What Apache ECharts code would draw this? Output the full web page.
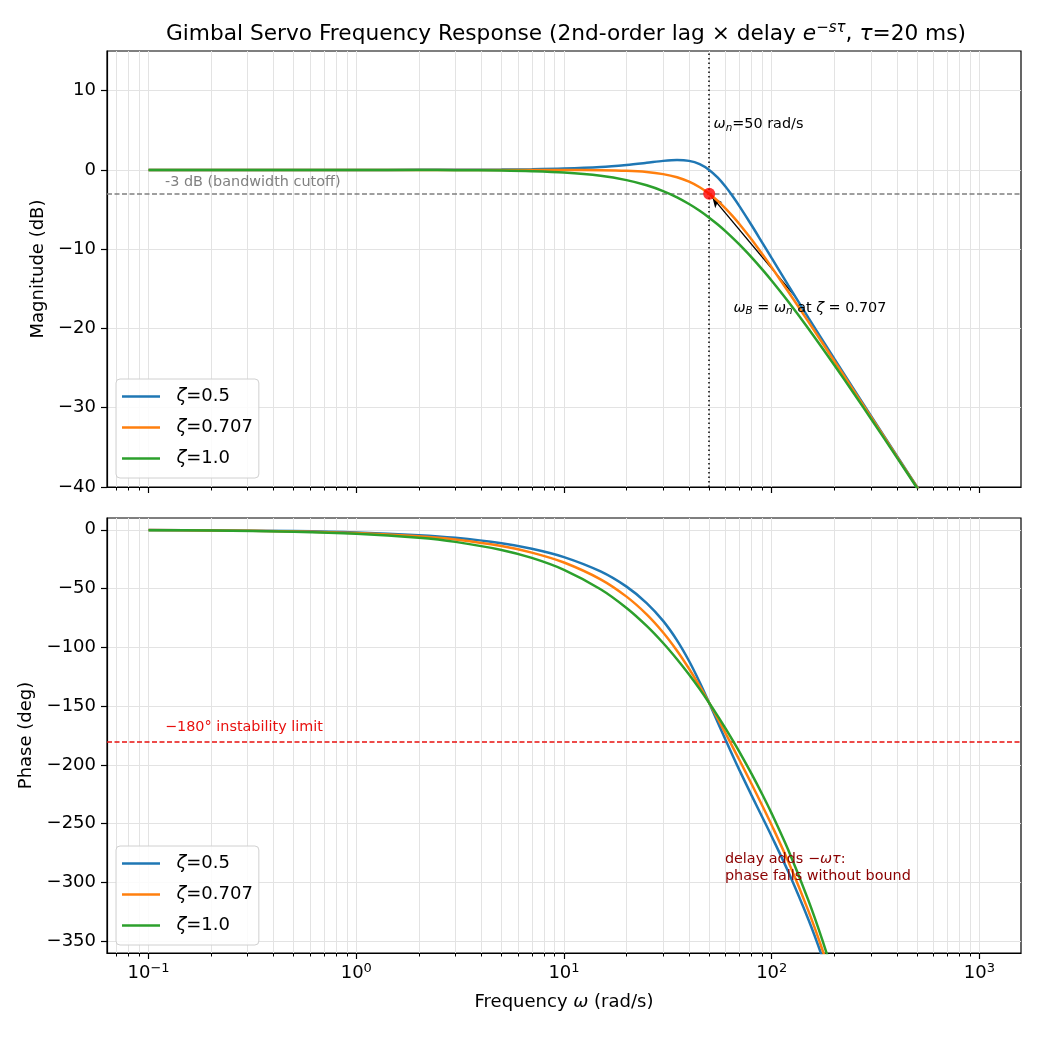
<!DOCTYPE html>
<html>
<head>
<meta charset="utf-8">
<script src="https://cdn.jsdelivr.net/npm/echarts@6/dist/echarts.min.js"></script>
<style>html,body{margin:0;padding:0;background:#fff}#chart{width:1040px;height:1040px}</style>
</head>
<body>
<div id="chart"></div>
<script>
// frequency grid (rad/s) and curves
const W_MAG = [0.1, 0.2, 0.5, 1, 2, 3, 5, 7, 10, 15, 20, 25, 30, 35, 40, 45, 50, 55, 60, 65, 70, 80, 90, 100, 120, 150, 200, 250, 300, 400, 500, 700];
const MAG_05 = [0, 0, 0, 0, 0.01, 0.02, 0.04, 0.08, 0.17, 0.37, 0.63, 0.90, 1.14, 1.25, 1.14, 0.73, 0, -0.98, -2.13, -3.36, -4.60, -6.98, -9.17, -11.14, -14.54, -18.63, -23.82, -27.79, -31.01, -36.06, -39.96, -45.82];
const MAG_0707 = [0, 0, 0, 0, 0, 0, 0, 0, -0.01, -0.04, -0.11, -0.26, -0.53, -0.93, -1.49, -2.19, -3.01, -3.92, -4.88, -5.86, -6.85, -8.78, -10.61, -12.30, -15.34, -19.14, -24.10, -27.97, -31.13, -36.13, -40.00, -45.84];
const MAG_10 = [0, 0, 0, 0, -0.01, -0.03, -0.09, -0.17, -0.34, -0.75, -1.29, -1.94, -2.67, -3.46, -4.30, -5.15, -6.02, -6.89, -7.75, -8.60, -9.43, -11.03, -12.55, -13.98, -16.60, -20.00, -24.61, -28.30, -31.36, -36.26, -40.09, -45.88];

const W_PH = [0.1, 0.2, 0.5, 1, 2, 3, 5, 7, 10, 15, 20, 25, 30, 35, 40, 45, 50, 55, 60, 65, 70, 80, 90, 100, 120, 150, 175, 200];
const PH_05 = [-0.23, -0.46, -1.15, -2.29, -4.59, -6.88, -11.50, -16.15, -23.23, -35.44, -48.38, -62.34, -77.53, -94.04, -111.61, -129.65, -147.30, -163.84, -178.90, -192.44, -204.65, -225.94, -244.35, -260.90, -290.75, -331.33, -363.26, -394.25];
const PH_0707 = [-0.28, -0.55, -1.38, -2.77, -5.54, -8.31, -13.86, -19.44, -27.88, -42.18, -56.88, -71.96, -87.35, -102.85, -118.19, -133.08, -147.30, -160.72, -173.30, -185.06, -196.08, -216.26, -234.48, -251.28, -282.02, -323.95, -356.79, -388.52];
const PH_10 = [-0.34, -0.69, -1.72, -3.44, -6.87, -10.31, -17.15, -23.96, -34.08, -50.59, -66.52, -81.78, -96.31, -110.12, -123.16, -135.54, -147.30, -158.48, -169.15, -179.35, -189.13, -207.66, -225.02, -241.46, -272.27, -315.02, -348.65, -381.11];

const NAMES = ['ζ=0.5', 'ζ=0.707', 'ζ=1.0'];
const COLORS = ['#1f77b4', '#ff7f0e', '#2ca02c'];

// ticks
const X_MAJOR = [0.1, 1, 10, 100, 1000];
const X_MINOR = [0.07, 0.08, 0.09, 0.2, 0.3, 0.4, 0.5, 0.6, 0.7, 0.8, 0.9, 2, 3, 4, 5, 6, 7, 8, 9,
  20, 30, 40, 50, 60, 70, 80, 90, 200, 300, 400, 500, 600, 700, 800, 900];
const MAG_TICKS = [-40, -30, -20, -10, 0, 10];
const PH_TICKS = [-350, -300, -250, -200, -150, -100, -50, 0];

// annotations
const WN = 50;
const CUTOFF_DB = -3;
const BW_POINT = [50, -3];
const ARROW_FROM = [130, -16];
const PHASE_LIMIT = -180;

const FONT = 'DejaVu Sans';
const chart = echarts.init(document.getElementById('chart'));

const pairs = (xs, ys) => xs.map((x, i) => [x, ys[i]]);
const minus = v => (v < 0 ? '\u2212' + Math.abs(v) : String(v));
const logLabel = v => {
  const e = Math.round(Math.log10(v));
  return '10{sup|' + minus(e) + '}';
};
const GRID_C = '#e3e3e3';
const XMIN = 0.0631, XMAX = 1585;

function xAxis(gridIndex, labels) {
  return {
    type: 'log', logBase: 10, gridIndex, min: XMIN, max: XMAX,
    axisLine: { show: true, onZero: false, lineStyle: { color: '#000', width: 1.2 } },
    axisTick: { show: true, length: 6, customValues: X_MAJOR, lineStyle: { color: '#000', width: 1.2 } },
    splitLine: { show: true, lineStyle: { color: GRID_C, width: 1 } },
    axisLabel: labels ? {
      show: true, fontFamily: FONT, fontSize: 18, color: '#000', margin: 9,
      customValues: X_MAJOR, formatter: logLabel,
      rich: { sup: { fontSize: 13, verticalAlign: 'top', fontFamily: FONT, padding: [0, 0, 10, 0] } }
    } : { show: false },
    name: labels ? 'Frequency {i|ω} (rad/s)' : '',
    nameLocation: 'middle', nameGap: 40,
    nameTextStyle: { fontFamily: FONT, fontSize: 18, color: '#000', rich: { i: { fontStyle: 'italic', fontSize: 18, fontFamily: FONT } } }
  };
}
// hidden companion axis carrying the minor ticks
function minorAxis(gridIndex) {
  return {
    type: 'log', logBase: 10, gridIndex, min: XMIN, max: XMAX, position: 'bottom',
    axisLine: { show: false, onZero: false },
    axisTick: { show: true, length: 3.5, customValues: X_MINOR, lineStyle: { color: '#000', width: 1 } },
    axisLabel: { show: false },
    splitLine: { show: false }
  };
}

function yAxis(gridIndex, name, min, max, ticks, nameGap) {
  return {
    type: 'value', gridIndex, min, max,
    axisLine: { show: true, lineStyle: { color: '#000', width: 1.2 } },
    axisTick: { show: true, length: 6, customValues: ticks, lineStyle: { color: '#000', width: 1.2 } },
    splitLine: { show: true, lineStyle: { color: GRID_C, width: 1 } },
    axisLabel: { fontFamily: FONT, fontSize: 18, color: '#000', margin: 11, formatter: minus, customValues: ticks },
    name, nameLocation: 'middle', nameGap,
    nameTextStyle: { fontFamily: FONT, fontSize: 18, color: '#000' }
  };
}

const lineSeries = (name, xs, ys, color, idx) => ({
  name, type: 'line', xAxisIndex: idx, yAxisIndex: idx,
  data: pairs(xs, ys), showSymbol: false, smooth: 0.3, z: 3,
  lineStyle: { color, width: 2.5 }, itemStyle: { color }
});

const labelPoint = (coord, text, color, size) => ({
  coord, symbolSize: 0,
  label: {
    show: true, position: 'right', distance: 0, formatter: text,
    fontFamily: FONT, fontSize: size, color, lineHeight: 17,
    rich: {
      i: { fontStyle: 'italic', fontFamily: FONT, fontSize: size, color },
      sub: { fontSize: size - 4, verticalAlign: 'bottom', fontFamily: FONT, color, fontStyle: 'italic' }
    }
  }
});

const minorGrid = X_MINOR.map(v => ({ xAxis: v }));

const legendBase = {
  orient: 'vertical', data: NAMES, itemWidth: 38, itemHeight: 2.5, itemGap: 10,
  icon: 'rect', padding: [7, 6, 9, 6],
  backgroundColor: 'rgba(255,255,255,0.85)', borderColor: '#d0d0d0', borderWidth: 1, borderRadius: 4,
  textStyle: { fontFamily: FONT, fontSize: 18, color: '#000', lineHeight: 21, rich: { i: { fontStyle: 'italic', fontFamily: FONT, fontSize: 18 } } },
  formatter: n => '  {i|ζ}' + n.slice(1)
};

const option = {
  backgroundColor: '#fff',
  animation: false,
  title: {
    text: 'Gimbal Servo Frequency Response (2nd-order lag × delay {i|e}{sup|−sτ}, {i|τ}=20 ms)',
    left: 561, top: 16, textAlign: 'center',
    textStyle: {
      fontFamily: FONT, fontSize: 21.7, fontWeight: 'normal', color: '#000', lineHeight: 26,
      rich: {
        i: { fontStyle: 'italic', fontFamily: FONT, fontSize: 21.7, lineHeight: 26 },
        sup: { fontStyle: 'italic', fontFamily: FONT, fontSize: 15, verticalAlign: 'top', lineHeight: 26 }
      }
    }
  },
  grid: [
    { left: 107, top: 51, width: 914, height: 436, show: true, borderColor: '#000', borderWidth: 1.2, containLabel: false },
    { left: 107, top: 518, width: 914, height: 435, show: true, borderColor: '#000', borderWidth: 1.2, containLabel: false }
  ],
  legend: [
    Object.assign({}, legendBase, { left: 116, top: 379 }),
    Object.assign({}, legendBase, { left: 116, top: 846 })
  ],
  xAxis: [xAxis(0, false), xAxis(1, true), minorAxis(0), minorAxis(1)],
  yAxis: [
    yAxis(0, 'Magnitude (dB)', -40, 15, MAG_TICKS, 57),
    yAxis(1, 'Phase (deg)', -360, 10, PH_TICKS, 67)
  ],
  series: [
    lineSeries(NAMES[0], W_MAG, MAG_05, COLORS[0], 0),
    lineSeries(NAMES[1], W_MAG, MAG_0707, COLORS[1], 0),
    lineSeries(NAMES[2], W_MAG, MAG_10, COLORS[2], 0),
    lineSeries(NAMES[0], W_PH, PH_05, COLORS[0], 1),
    lineSeries(NAMES[1], W_PH, PH_0707, COLORS[1], 1),
    lineSeries(NAMES[2], W_PH, PH_10, COLORS[2], 1),
    {
      name: 'bw', type: 'scatter', xAxisIndex: 0, yAxisIndex: 0, z: 5,
      data: [BW_POINT], symbolSize: 12, itemStyle: { color: '#ff0000' },
      markLine: {
        silent: true, symbol: 'none', animation: false, z: 2,
        data: minorGrid.map(d => Object.assign({ lineStyle: { color: GRID_C, width: 1, type: 'solid' } }, d)).concat([
          { xAxis: WN, lineStyle: { color: '#000', type: [1.5, 3], width: 1.5 } },
          { yAxis: CUTOFF_DB, lineStyle: { color: '#808080', type: [5, 2.5], width: 1.5 } },
          [
            { coord: ARROW_FROM, symbol: 'none', lineStyle: { color: '#000', type: 'solid', width: 1.3 } },
            { coord: BW_POINT, symbol: 'arrow', symbolSize: [7, 10], symbolOffset: [0, 5] }
          ]
        ]),
        label: { show: false }
      },
      markPoint: {
        silent: true, symbol: 'circle',
        data: [
          labelPoint([52.5, 5.7], '{i|ω}{sub|n}=50 rad/s', '#000', 14.4),
          labelPoint([0.12, -1.6], '-3 dB (bandwidth cutoff)', '#808080', 14.4),
          labelPoint([65.5, -17.4], '{i|ω}{sub|B} = {i|ω}{sub|n} at {i|ζ} = 0.707', '#000', 14.4)
        ]
      }
    },
    {
      name: 'ph-ann', type: 'scatter', xAxisIndex: 1, yAxisIndex: 1, data: [],
      markLine: {
        silent: true, symbol: 'none', animation: false, z: 2,
        data: minorGrid.map(d => Object.assign({ lineStyle: { color: GRID_C, width: 1, type: 'solid' } }, d)).concat([
          { yAxis: PHASE_LIMIT, lineStyle: { color: '#e8110f', type: [5, 2.5], width: 1.5 } }
        ]),
        label: { show: false }
      },
      markPoint: {
        silent: true, symbol: 'circle',
        data: [
          labelPoint([0.12, -167.8], '−180° instability limit', '#e8110f', 14.4),
          labelPoint([59.5, -287.7], 'delay adds −{i|ωτ}:\nphase falls without bound', '#8b0000', 14.4)
        ]
      }
    }
  ]
};
chart.setOption(option);
</script>
</body>
</html>
